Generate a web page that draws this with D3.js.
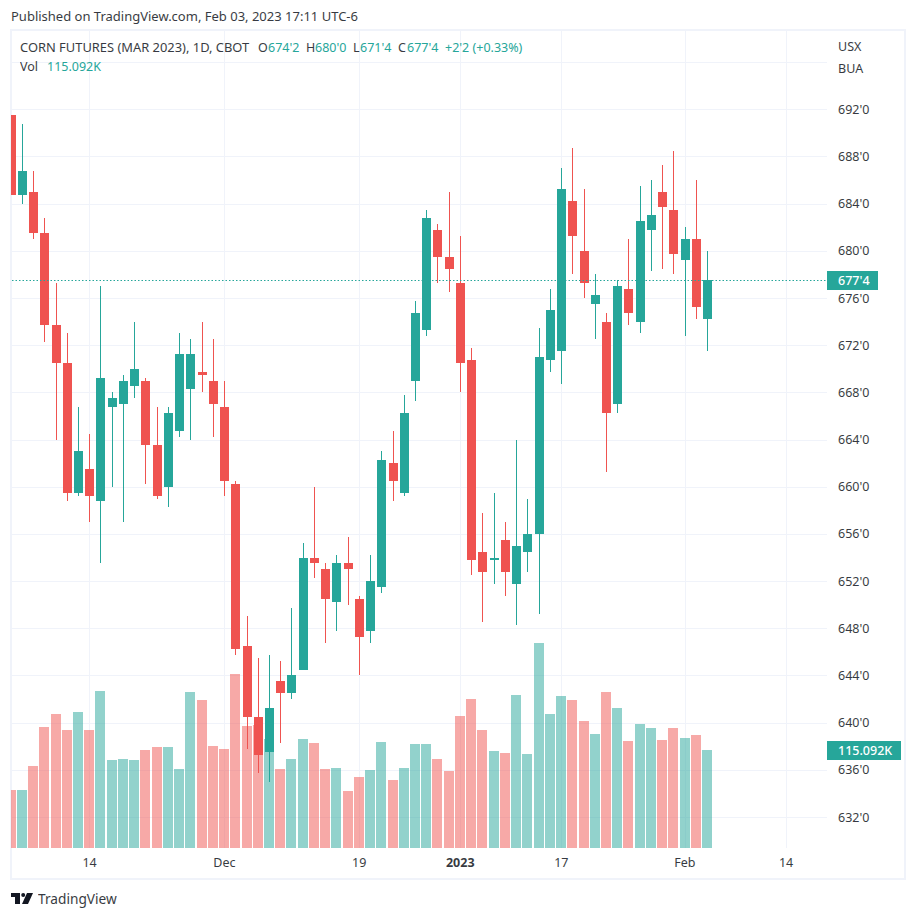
<!DOCTYPE html>
<html>
<head>
<meta charset="utf-8">
<script src="https://cdn.jsdelivr.net/npm/d3@7/dist/d3.min.js"></script>
<style>
  body { margin: 0; background: #fff; }
  text { font-family: "Noto Sans", sans-serif; }
</style>
</head>
<body>
<script>
// values (cents per bushel, volume in thousands)
var opens = [691.5,684.75,685,681.5,673.75,670.5,659.5,661.5,658.75,666.75,667,668.5,669,663.5,660,664.75,668.25,669.75,669,666.75,
  660.25,646.5,640.5,637.5,643.5,642.5,644.5,654,653,650.25,653.5,650.5,647.75,651.5,662,659.5,669,673.25,681.75,679.5,
  677.25,670.75,654.5,653.75,655.5,651.75,654.5,656,670.75,671.5,684.25,680,675.5,674,667,676.75,674,681.75,685,683.5,679.25,681,674.25];
var closes = [684.75,686.75,681.5,673.75,670.5,659.5,663,659.25,669.25,667.5,669,670,663.5,659.25,666.25,671.25,671.25,669.5,667,660.5,
  646.25,640.5,637.25,641.25,642.5,644,654,653.5,650.5,653.5,653,647.25,652,662.25,660.5,666.25,674.75,682.75,679.5,678.5,
  670.5,653.75,652.75,654,652.75,655,656,671,675,685.25,681.25,677.25,676.25,666.25,677,674.75,682.5,683,683.75,679.75,681,675.25,677.5];
var highs = [691.5,690.75,686.75,682.75,677.25,673,666.75,664.5,677,668,669.5,674,669.25,666.75,666.75,673,672.5,674,672.5,669,
  660.5,649,645.5,645.75,645.25,649.75,655.25,660,653.5,654.25,655.75,650.75,654.25,663,664.75,667.75,675.75,683.5,682.25,685,
  681.25,671.75,657.75,659.5,657,664,659,673.5,676.75,687,688.75,685.25,678,674.75,677.5,681,685.5,686,687.25,688.5,682,686,680];
var lows = [684.75,684,681,672.25,664,658.75,659.25,657,653.5,660,657,667.5,660.25,659,658.25,664.25,664,668,664.25,659.25,
  645.75,637.75,635.75,635,638.25,642,644.5,652.25,646.75,647.75,650,644,646.75,651,658.75,659.25,667.25,672.75,677.25,676.5,
  668,652.5,648.5,651.75,650.75,648.25,652.75,649.25,669.75,668.75,678,676,672.5,661.25,666.25,673.75,673,678.25,678.5,678,672.75,674.25,671.5];
var volumes = [68.1,68.1,96.3,142.1,157.4,138.6,159.7,138.6,184.4,103.3,104.5,103.3,115.1,118.6,118.6,92.8,183.2,173.8,119.8,116.3,
  204.3,143.3,144.5,128,92.8,104.5,128,123.3,92.8,94,66.9,83.4,91.6,124.5,79.9,94,122.1,122.1,104.5,90.4,
  155,175,138.6,113.9,111.6,179.7,110.4,240.8,157.4,178.5,173.8,149.2,133.9,183.2,164.4,125.7,145.6,140.9,126.8,140.9,129.2,132.7,115.092];

var priceTicks = [692,688,684,680,676,672,668,664,660,656,652,648,644,640,636,632];
var priceGrid = [696].concat(priceTicks);
var dateTicks = [7,19,31,40,49,60,69];
var dateLabels = ["14","Dec","19","2023","17","Feb","14"];
var lastPrice = 677.5;
var lastPriceLabel = "677'4";
var lastVolumeLabel = "115.092K";

var svgWidth = 916;
var svgHeight = 919;

// chart frame and plot pane
var frame = { left: 11, top: 30, right: 905, bottom: 879 };
var pane = { left: 12, top: 31, right: 827, bottom: 848 };

var red = "#ef5350";
var teal = "#26a69a";
var gridColor = "#f0f3fa";
var textColor = "#131722";

var svg = d3.select("body").append("svg")
    .attr("width", svgWidth)
    .attr("height", svgHeight)
    .style("display", "block");

// scales
var xScale = d3.scaleLinear().domain([1, 62]).range([22.35, 707.6]);
var yScale = d3.scaleLinear().domain([692, 632]).range([109.3, 817]);
var volScale = d3.scaleLinear().domain([0, 115.092]).range([pane.bottom, 750]);

// snap to the pixel column the way the reference does
var col = i => Math.floor(xScale(i));
var row = v => Math.round(yScale(v));

svg.append("rect")
    .attr("x", frame.left).attr("y", frame.top)
    .attr("width", frame.right - frame.left).attr("height", frame.bottom - frame.top)
    .attr("fill", "#fff").attr("stroke", gridColor).attr("stroke-width", 2);

svg.append("clipPath").attr("id", "pane").append("rect")
    .attr("x", pane.left - 1).attr("y", pane.top)
    .attr("width", pane.right - pane.left + 1).attr("height", pane.bottom - pane.top);

// grid
var gridGroup = svg.append("g").attr("shape-rendering", "crispEdges");
gridGroup.selectAll("line.h").data(priceGrid).enter().append("line")
    .attr("x1", pane.left).attr("x2", pane.right)
    .attr("y1", d => row(d) + 0.5).attr("y2", d => row(d) + 0.5)
    .attr("stroke", gridColor);
gridGroup.selectAll("line.v").data(dateTicks).enter().append("line")
    .attr("y1", pane.top).attr("y2", pane.bottom)
    .attr("x1", d => col(d) + 0.5).attr("x2", d => col(d) + 0.5)
    .attr("stroke", gridColor);

var chartGroup = svg.append("g")
    .attr("clip-path", "url(#pane)")
    .attr("shape-rendering", "crispEdges");

var bars = d3.range(opens.length);

// volume, under the candles
chartGroup.selectAll("rect.vol").data(bars).enter().append("rect")
    .attr("class", "vol")
    .attr("x", i => col(i) - 5)
    .attr("width", 10)
    .attr("y", i => Math.round(volScale(volumes[i])))
    .attr("height", i => pane.bottom - Math.round(volScale(volumes[i])))
    .attr("fill", i => closes[i] >= opens[i] ? teal : red)
    .attr("opacity", 0.5);

// last price line
svg.append("line")
    .attr("x1", pane.left).attr("x2", pane.right)
    .attr("y1", row(lastPrice) + 0.5).attr("y2", row(lastPrice) + 0.5)
    .attr("stroke", teal)
    .attr("stroke-dasharray", "1.5 2");

// wicks
chartGroup.selectAll("rect.wick").data(bars).enter().append("rect")
    .attr("class", "wick")
    .attr("x", i => col(i))
    .attr("width", 1)
    .attr("y", i => row(highs[i]))
    .attr("height", i => row(lows[i]) - row(highs[i]))
    .attr("fill", i => closes[i] >= opens[i] ? teal : red);

// bodies
chartGroup.selectAll("rect.body").data(bars).enter().append("rect")
    .attr("class", "body")
    .attr("x", i => col(i) - 4)
    .attr("width", 9)
    .attr("y", i => row(Math.max(opens[i], closes[i])))
    .attr("height", i => Math.max(row(Math.min(opens[i], closes[i])) - row(Math.max(opens[i], closes[i])), 1))
    .attr("fill", i => closes[i] >= opens[i] ? teal : red);

// price axis
var yAxis = d3.axisRight(yScale)
    .tickValues(priceTicks)
    .tickSize(0)
    .tickPadding(11)
    .tickFormat(d => d + "'0");
var yAxisGroup = svg.append("g")
    .attr("transform", `translate(${pane.right}, 0)`)
    .call(yAxis);
yAxisGroup.select(".domain").remove();
yAxisGroup.selectAll("text")
    .attr("font-size", 12.5)
    .style("font-family", '"Noto Sans", sans-serif')
    .attr("fill", textColor)
    .attr("opacity", 0.85);

// date axis
var xAxis = d3.axisBottom(xScale)
    .tickValues(dateTicks)
    .tickSize(0)
    .tickPadding(10)
    .tickFormat((d, i) => dateLabels[i]);
var xAxisGroup = svg.append("g")
    .attr("transform", `translate(-0.7, ${pane.bottom})`)
    .call(xAxis);
xAxisGroup.select(".domain").remove();
xAxisGroup.selectAll("text")
    .attr("font-size", 12.5)
    .style("font-family", '"Noto Sans", sans-serif')
    .attr("font-weight", (d, i) => dateLabels[i] == "2023" ? 700 : 400)
    .attr("fill", textColor)
    .attr("opacity", 0.85);

// units above the price axis
svg.append("text").attr("x", 838).attr("y", 50.5).attr("font-size", 12.5).attr("fill", textColor).attr("opacity", 0.85).text("USX");
svg.append("text").attr("x", 838).attr("y", 72.5).attr("font-size", 12.5).attr("fill", textColor).attr("opacity", 0.85).text("BUA");

// last price and last volume labels
svg.append("rect").attr("x", pane.right).attr("y", 271).attr("width", 51).attr("height", 19).attr("fill", teal);
svg.append("text").attr("x", 838).attr("y", 285).attr("font-size", 12.5).attr("font-weight", 500).attr("fill", "#fff").text(lastPriceLabel);
svg.append("rect").attr("x", pane.right).attr("y", 741).attr("width", 74).attr("height", 19).attr("fill", teal);
svg.append("text").attr("x", 838).attr("y", 755).attr("font-size", 12.5).attr("font-weight", 500).attr("fill", "#fff").text(lastVolumeLabel);

// header text
svg.append("text").attr("x", 11).attr("y", 21).attr("font-size", 13).attr("fill", textColor).attr("opacity", 0.85)
    .text("Published on TradingView.com, Feb 03, 2023 17:11 UTC-6");

var legend = [
  { x: 20, t: "CORN FUTURES (MAR 2023), 1D, CBOT", c: textColor, s: 12.9 },
  { x: 258, t: "O", c: textColor, s: 12.5 },
  { x: 268, t: "674'2", c: teal, s: 12.5 },
  { x: 306, t: "H", c: textColor, s: 12.5 },
  { x: 315, t: "680'0", c: teal, s: 12.5 },
  { x: 353, t: "L", c: textColor, s: 12.5 },
  { x: 360, t: "671'4", c: teal, s: 12.5 },
  { x: 398, t: "C", c: textColor, s: 12.5 },
  { x: 407, t: "677'4", c: teal, s: 12.5 },
  { x: 445, t: "+2'2 (+0.33%)", c: teal, s: 12.5 }
];
svg.selectAll("text.legend").data(legend).enter().append("text")
    .attr("class", "legend")
    .attr("x", d => d.x).attr("y", 52)
    .attr("font-size", d => d.s)
    .attr("fill", d => d.c)
    .attr("opacity", d => d.c == teal ? 1 : 0.85)
    .text(d => d.t);
svg.append("text").attr("x", 20).attr("y", 71).attr("font-size", 12.5).attr("fill", textColor).attr("opacity", 0.85).text("Vol");
svg.append("text").attr("x", 47).attr("y", 71).attr("font-size", 12.5).attr("fill", teal).text(lastVolumeLabel);

// TradingView mark and name
var logo = svg.append("g").attr("transform", "translate(11, 893)").attr("fill", "#131722");
logo.append("path").attr("d", "M0 0H9V11H4V4H0Z");
logo.append("circle").attr("cx", 12.2).attr("cy", 2).attr("r", 2);
logo.append("path").attr("d", "M16 0H22L17 11H11Z");
svg.append("text").attr("x", 38).attr("y", 904).attr("font-size", 13.7).attr("fill", textColor).attr("opacity", 0.85).text("TradingView");
</script>
</body>
</html>
